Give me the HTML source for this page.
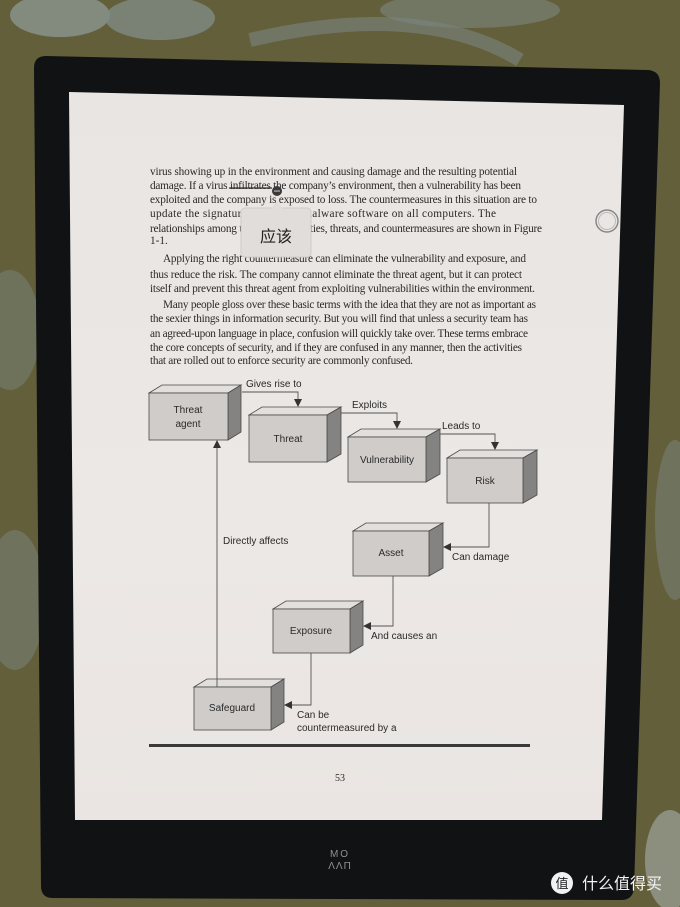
<!DOCTYPE html>
<html><head><meta charset="utf-8"><style>
html,body{margin:0;padding:0;width:680px;height:907px;overflow:hidden;background:#5f5d38}
svg{display:block}
.t{font-family:"Liberation Serif",serif;font-size:11.3px;fill:#2c2a29}
.d{font-family:"Liberation Sans",sans-serif;font-size:10px;fill:#2a2a2a}
</style></head><body>
<svg width="680" height="907" viewBox="0 0 680 907" xmlns="http://www.w3.org/2000/svg">
<defs>
<linearGradient id="scr" x1="0" y1="0" x2="0" y2="1">
<stop offset="0" stop-color="#e9e5e3"/><stop offset="0.6" stop-color="#ece8e6"/><stop offset="1" stop-color="#eae5e2"/>
</linearGradient>
<marker id="ar" markerWidth="8" markerHeight="8" refX="7" refY="4" orient="auto" markerUnits="userSpaceOnUse">
<path d="M0,0 L8,4 L0,8 z" fill="#333"/></marker>
</defs>
<rect width="680" height="907" fill="#635f3b"/>
<ellipse cx="60" cy="15" rx="50" ry="22" fill="#8a9690" opacity=".8"/>
<ellipse cx="160" cy="18" rx="55" ry="22" fill="#7f8b85" opacity=".8"/>
<ellipse cx="470" cy="10" rx="90" ry="18" fill="#7c877f" opacity=".6"/>
<path d="M250,40 Q420,0 520,60" stroke="#7b8680" stroke-width="14" fill="none" opacity=".6"/>
<ellipse cx="10" cy="330" rx="30" ry="60" fill="#7b857c" opacity=".5"/>
<ellipse cx="15" cy="600" rx="30" ry="70" fill="#7c867f" opacity=".5"/>
<ellipse cx="675" cy="520" rx="20" ry="80" fill="#7c867f" opacity=".5"/>
<ellipse cx="670" cy="860" rx="25" ry="50" fill="#a8adab" opacity=".6"/>
<path d="M46,56 L648,70 Q660,71 660,83 L634,888 Q633,900 621,900 L53,898 Q41,898 41,886 L34,68 Q34,56 46,56 Z" fill="#101214"/>
<path d="M69,92 L624,105 L602,820 L75,820 Z" fill="url(#scr)"/>
<circle cx="607" cy="221" r="11" fill="none" stroke="#888" stroke-width="1.5"/>
<circle cx="607" cy="221" r="8.5" fill="none" stroke="#bbb" stroke-width="1"/>
<text class="t" x="150" y="175" textLength="367" lengthAdjust="spacing">virus showing up in the environment and causing damage and the resulting potential</text>
<text class="t" x="150" y="189" textLength="371" lengthAdjust="spacing">damage. If a virus infiltrates the company’s environment, then a vulnerability has been</text>
<text class="t" x="150" y="203" textLength="387" lengthAdjust="spacing">exploited and the company is exposed to loss. The countermeasures in this situation are to</text>
<text class="t" x="150" y="217" textLength="346" lengthAdjust="spacing">update the signatures in the antimalware software on all computers. The</text>
<text class="t" x="150" y="232" textLength="392" lengthAdjust="spacing">relationships among these vulnerabilities, threats, and countermeasures are shown in Figure</text>
<text class="t" x="150" y="244">1-1.</text>
<text class="t" x="163" y="262" textLength="363" lengthAdjust="spacing">Applying the right countermeasure can eliminate the vulnerability and exposure, and</text>
<text class="t" x="150" y="278" textLength="372" lengthAdjust="spacing">thus reduce the risk. The company cannot eliminate the threat agent, but it can protect</text>
<text class="t" x="150" y="292" textLength="385" lengthAdjust="spacing">itself and prevent this threat agent from exploiting vulnerabilities within the environment.</text>
<text class="t" x="163" y="308" textLength="373" lengthAdjust="spacing">Many people gloss over these basic terms with the idea that they are not as important as</text>
<text class="t" x="150" y="322" textLength="378" lengthAdjust="spacing">the sexier things in information security. But you will find that unless a security team has</text>
<text class="t" x="150" y="337" textLength="378" lengthAdjust="spacing">an agreed-upon language in place, confusion will quickly take over. These terms embrace</text>
<text class="t" x="150" y="351" textLength="372" lengthAdjust="spacing">the core concepts of security, and if they are confused in any manner, then the activities</text>
<text class="t" x="150" y="364" textLength="263" lengthAdjust="spacing">that are rolled out to enforce security are commonly confused.</text>
<line x1="229" y1="188" x2="272" y2="188" stroke="#333" stroke-width="1.2"/>
<rect x="241" y="208" width="70" height="49" rx="4" fill="#e0dddb" stroke="#cfcbc9"/>
<path d="M271,208.5 L277,201 L283,208.5 Z" fill="#e0dddb"/>
<text x="276" y="242" text-anchor="middle" style="font-family:'Noto Sans CJK SC',sans-serif;font-size:16px;fill:#222">应该</text>
<circle cx="277" cy="191" r="5" fill="#3a3a3a"/>
<circle cx="275" cy="191" r=".8" fill="#ddd"/><circle cx="277" cy="191" r=".8" fill="#ddd"/><circle cx="279" cy="191" r=".8" fill="#ddd"/>
<g stroke="#4a4a4a" stroke-width="0.8">
<g><polygon points="149,393 162,385 241,385 228,393" fill="#e2dfdd"/><polygon points="228,393 241,385 241,432 228,440" fill="#858382"/><rect x="149" y="393" width="79" height="47" fill="#cfccca"/></g>
<g><polygon points="249,415 262,407 341,407 327,415" fill="#e2dfdd"/><polygon points="327,415 341,407 341,454 327,462" fill="#858382"/><rect x="249" y="415" width="78" height="47" fill="#cfccca"/></g>
<g><polygon points="348,437 361,429 440,429 426,437" fill="#e2dfdd"/><polygon points="426,437 440,429 440,474 426,482" fill="#858382"/><rect x="348" y="437" width="78" height="45" fill="#cfccca"/></g>
<g><polygon points="447,458 460,450 537,450 523,458" fill="#e2dfdd"/><polygon points="523,458 537,450 537,495 523,503" fill="#858382"/><rect x="447" y="458" width="76" height="45" fill="#cfccca"/></g>
<g><polygon points="353,531 366,523 443,523 429,531" fill="#e2dfdd"/><polygon points="429,531 443,523 443,568 429,576" fill="#858382"/><rect x="353" y="531" width="76" height="45" fill="#cfccca"/></g>
<g><polygon points="273,609 286,601 363,601 350,609" fill="#e2dfdd"/><polygon points="350,609 363,601 363,645 350,653" fill="#858382"/><rect x="273" y="609" width="77" height="44" fill="#cfccca"/></g>
<g><polygon points="194,687 207,679 284,679 271,687" fill="#e2dfdd"/><polygon points="271,687 284,679 284,722 271,730" fill="#858382"/><rect x="194" y="687" width="77" height="43" fill="#cfccca"/></g>
</g>
<g class="d" text-anchor="middle">
<text x="188" y="413">Threat</text><text x="188" y="427">agent</text>
<text x="288" y="442">Threat</text>
<text x="387" y="463">Vulnerability</text>
<text x="485" y="484">Risk</text>
<text x="391" y="556">Asset</text>
<text x="311" y="634">Exposure</text>
<text x="232" y="711">Safeguard</text>
</g>
<g stroke="#555" stroke-width="0.9" fill="none">
<polyline points="242,392 298,392 298,406" marker-end="url(#ar)"/>
<polyline points="341,413 397,413 397,428" marker-end="url(#ar)"/>
<polyline points="440,434 495,434 495,449" marker-end="url(#ar)"/>
<polyline points="489,503 489,547 444,547" marker-end="url(#ar)"/>
<polyline points="393,576 393,626 364,626" marker-end="url(#ar)"/>
<polyline points="311,653 311,705 285,705" marker-end="url(#ar)"/>
<polyline points="217,687 217,441" marker-end="url(#ar)"/>
</g>
<g class="d">
<text x="246" y="387">Gives rise to</text>
<text x="352" y="408">Exploits</text>
<text x="442" y="429">Leads to</text>
<text x="452" y="560">Can damage</text>
<text x="371" y="639">And causes an</text>
<text x="297" y="718">Can be</text>
<text x="297" y="731">countermeasured by a</text>
<text x="223" y="544">Directly affects</text>
</g>
<rect x="149" y="744" width="381" height="3" fill="#3a3a3a"/>
<text class="t" x="340" y="781" text-anchor="middle" style="font-size:10px">53</text>
<text x="340" y="857" text-anchor="middle" style="font-family:'Liberation Sans',sans-serif;font-size:10px;fill:#8f9396;letter-spacing:2px">MO</text>
<text x="340" y="869" text-anchor="middle" style="font-family:'Liberation Sans',sans-serif;font-size:10px;fill:#8f9396;letter-spacing:1px">ΛΛΠ</text>
<circle cx="562" cy="883" r="11" fill="#f2f2f2"/>
<text x="562" y="888" text-anchor="middle" style="font-family:'Noto Sans CJK SC',sans-serif;font-size:13px;fill:#222">值</text>
<text x="582" y="889" style="font-family:'Noto Sans CJK SC',sans-serif;font-size:16px;fill:#f4f4f4">什么值得买</text>
</svg>
</body></html>
